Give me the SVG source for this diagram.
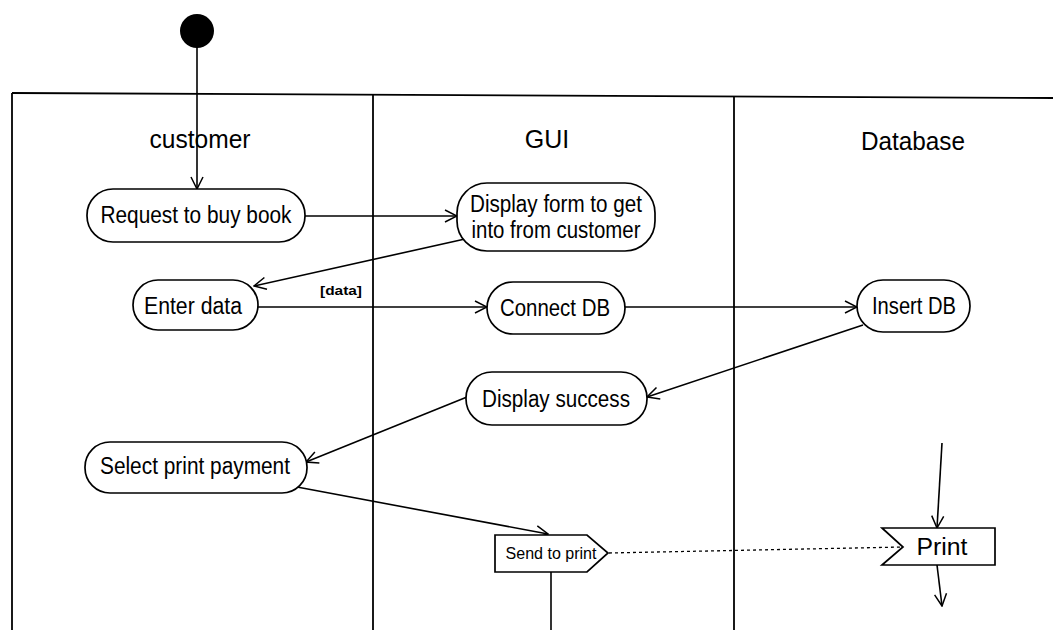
<svg xmlns="http://www.w3.org/2000/svg" width="1053" height="630" viewBox="0 0 1053 630">
<defs>
<marker id="arr" markerUnits="userSpaceOnUse" markerWidth="14" markerHeight="14" refX="13" refY="7" orient="auto">
<path d="M1,1 L13,7 L1,13" fill="none" stroke="#000" stroke-width="1.5"/>
</marker>
<style>
.lane{stroke:#000;stroke-width:1.8;fill:none}
.node{fill:#fff;stroke:#000;stroke-width:1.7}
.t{font-family:"Liberation Sans",Arial,sans-serif;font-size:23px;fill:#000;text-anchor:middle}
.lbl{font-family:"Liberation Sans",Arial,sans-serif;font-size:25px;fill:#000;text-anchor:middle}
.e{stroke:#000;stroke-width:1.6;fill:none}
</style>
</defs>
<rect width="1053" height="630" fill="#fff"/>
<g id="swimlanes">
<line class="lane" x1="12" y1="93" x2="1053" y2="98"/>
<line class="lane" x1="12" y1="93" x2="12" y2="630"/>
<line class="lane" x1="373" y1="95" x2="373" y2="630"/>
<line class="lane" x1="734" y1="96" x2="734" y2="630"/>
<text class="lbl" x="200" y="148" textLength="101" lengthAdjust="spacingAndGlyphs">customer</text>
<text class="lbl" x="547" y="148">GUI</text>
<text class="lbl" x="913" y="150" textLength="104" lengthAdjust="spacingAndGlyphs">Database</text>
</g>
<g id="connectors">
<line class="e" x1="197" y1="46" x2="197" y2="189" marker-end="url(#arr)"/>
<line class="e" x1="305" y1="216" x2="457" y2="216" marker-end="url(#arr)"/>
<line class="e" x1="465" y1="239" x2="254" y2="286" marker-end="url(#arr)"/>
<line class="e" x1="258" y1="307" x2="487" y2="307" marker-end="url(#arr)"/>
<text x="341" y="295" font-family="Liberation Sans, Arial, sans-serif" font-size="13" font-weight="bold" text-anchor="middle" textLength="42" lengthAdjust="spacingAndGlyphs">[data]</text>
<line class="e" x1="625" y1="307" x2="857" y2="307" marker-end="url(#arr)"/>
<line class="e" x1="863" y1="325" x2="647" y2="397" marker-end="url(#arr)"/>
<line class="e" x1="467" y1="397" x2="306" y2="462" marker-end="url(#arr)"/>
<line class="e" x1="297" y1="487" x2="548" y2="534" marker-end="url(#arr)"/>
<line class="e" x1="551" y1="572" x2="551" y2="630"/>
<line x1="609" y1="553" x2="903" y2="547" stroke="#000" stroke-width="1.3" stroke-dasharray="3,3"/>
<line class="e" x1="942" y1="443" x2="937" y2="528" marker-end="url(#arr)"/>
<line class="e" x1="937" y1="565" x2="942" y2="606" marker-end="url(#arr)"/>
</g>
<g id="start"><circle cx="197" cy="31" r="17" fill="#000"/></g>
<g id="request">
<rect class="node" x="87" y="189" width="218" height="53" rx="26"/>
<text class="t" x="196" y="223" textLength="191" lengthAdjust="spacingAndGlyphs">Request to buy book</text>
</g>
<g id="displayform">
<rect class="node" x="457" y="183" width="198" height="68" rx="30"/>
<text class="t" x="556" y="212" textLength="172" lengthAdjust="spacingAndGlyphs">Display form to get</text>
<text class="t" x="556" y="238" textLength="169" lengthAdjust="spacingAndGlyphs">into from customer</text>
</g>
<g id="enterdata">
<rect class="node" x="133" y="280" width="125" height="50" rx="25"/>
<text class="t" x="193" y="314" textLength="98" lengthAdjust="spacingAndGlyphs">Enter data</text>
</g>
<g id="connectdb">
<rect class="node" x="487" y="282" width="138" height="52" rx="26"/>
<text class="t" x="555" y="316" textLength="110" lengthAdjust="spacingAndGlyphs">Connect DB</text>
</g>
<g id="insertdb">
<rect class="node" x="857" y="280" width="113" height="52" rx="26"/>
<text class="t" x="914" y="314" textLength="84" lengthAdjust="spacingAndGlyphs">Insert DB</text>
</g>
<g id="displaysuccess">
<rect class="node" x="466" y="372" width="181" height="53" rx="26"/>
<text class="t" x="556" y="407" textLength="148" lengthAdjust="spacingAndGlyphs">Display success</text>
</g>
<g id="selectprint">
<rect class="node" x="85" y="442" width="222" height="51" rx="25"/>
<text class="t" x="195" y="474" textLength="190" lengthAdjust="spacingAndGlyphs">Select print payment</text>
</g>
<g id="sendtoprint">
<polygon class="node" points="495,535 587,535 608,553 587,572 495,572"/>
<text x="551" y="559" font-family="Liberation Sans, Arial, sans-serif" font-size="16" text-anchor="middle" textLength="91" lengthAdjust="spacingAndGlyphs">Send to print</text>
</g>
<g id="print">
<polygon class="node" points="882,528 995,528 995,565 882,565 903,547"/>
<text class="t" x="942" y="555" textLength="51" lengthAdjust="spacingAndGlyphs">Print</text>
</g>
</svg>
